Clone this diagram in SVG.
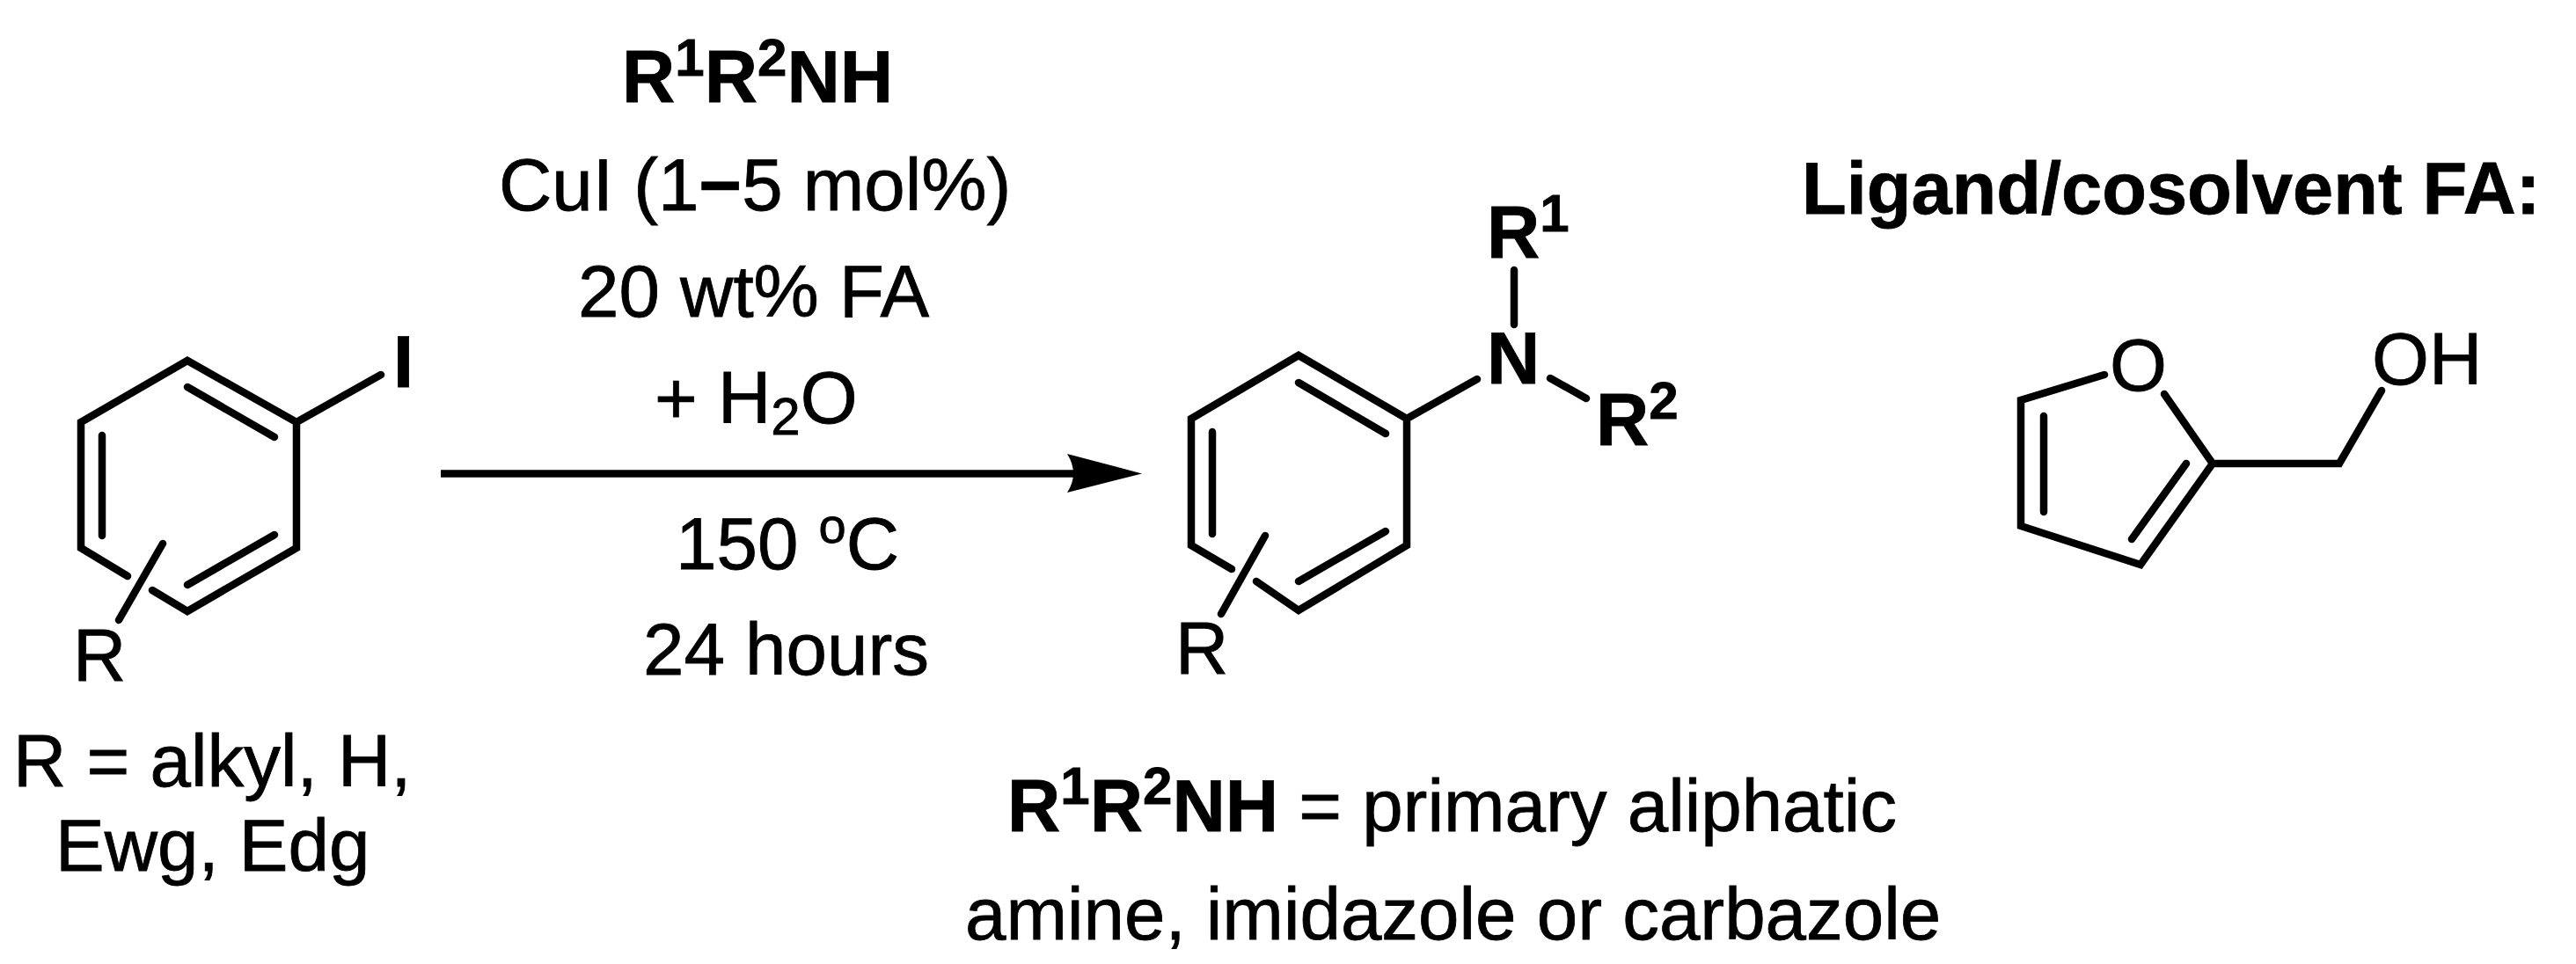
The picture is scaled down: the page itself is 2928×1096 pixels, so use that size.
<svg xmlns="http://www.w3.org/2000/svg" width="2928" height="1096" viewBox="0 0 2928 1096">
<style>
text{font-family:"Liberation Sans",Arial,sans-serif;font-size:83.500px;fill:#000;stroke:#000;stroke-width:.8}
.b{font-weight:700}
.s{font-size:60px}
.bond{fill:none;stroke:#000;stroke-width:8.500;stroke-linecap:round;stroke-linejoin:miter}
</style>
<rect width="2928" height="1096" fill="#fff"/>
<g id="reactant">
<path class="bond" d="M145 655L92 623V480L213 410L337 480V623L213 695L173 671M337 480L433 426M213 440L312 497M116 495V609M213 665L312 608M185 618L135 705"/>
<text class="b" x="447" y="440">I</text>
<text x="83" y="773.500">R</text>
<text x="15" y="893.500">R = alkyl, H,</text>
<text x="63" y="990">Ewg, Edg</text>
</g>
<g id="conditions">
<text class="b" x="707" y="116">R<tspan class="s" dy="-30">1</tspan><tspan dy="30">R</tspan><tspan class="s" dy="-30">2</tspan><tspan dy="30">NH</tspan></text>
<text x="567" y="239">CuI (1<tspan class="b">−</tspan>5 mol%)</text>
<text x="657" y="360">20 wt% FA</text>
<text x="744" y="481">+ H<tspan class="s" dy="13">2</tspan><tspan dy="-13">O</tspan></text>
<text x="768" y="647">150 <tspan style="font-size:56px" dy="-30">o</tspan><tspan dy="30">C</tspan></text>
<text x="731" y="767">24 hours</text>
</g>
<g id="connectors">
<path d="M501 538.500H1225" stroke="#000" stroke-width="8.500" fill="none"/>
<path d="M1298 538.500L1213 516Q1227 538.500 1213 560Z" fill="#000"/>
</g>
<g id="product">
<path class="bond" d="M1400 647L1354 620V476L1476 404L1599 476V620L1476 694L1428 661M1599 476L1679 431M1476 435L1575 493M1378 491V607M1476 661L1575 604M1438 609L1388 698M1721 307V369M1762 430L1803 453"/>
<text class="b" x="1690" y="293">R<tspan class="s" dy="-30">1</tspan></text>
<text class="b" x="1690" y="436">N</text>
<text class="b" x="1814" y="506">R<tspan class="s" dy="-30">2</tspan></text>
<text x="1336" y="766">R</text>
<text x="1145" y="945"><tspan class="b">R<tspan class="s" dy="-31">1</tspan><tspan dy="31">R</tspan><tspan class="s" dy="-31">2</tspan><tspan dy="31">NH</tspan></tspan> = primary aliphatic</text>
<text x="1097" y="1068">amine, imidazole or carbazole</text>
</g>
<g id="ligand">
<text class="b" x="2048" y="243" style="font-size:83px">Ligand/cosolvent FA:</text>
<path class="bond" d="M2392 426L2297 455V598L2433 642L2515 527L2460 448M2515 527H2659L2707 444M2323 473V582M2485 527L2423 613"/>
<text x="2398" y="444">O</text>
<text x="2696" y="437">OH</text>
</g>
</svg>
